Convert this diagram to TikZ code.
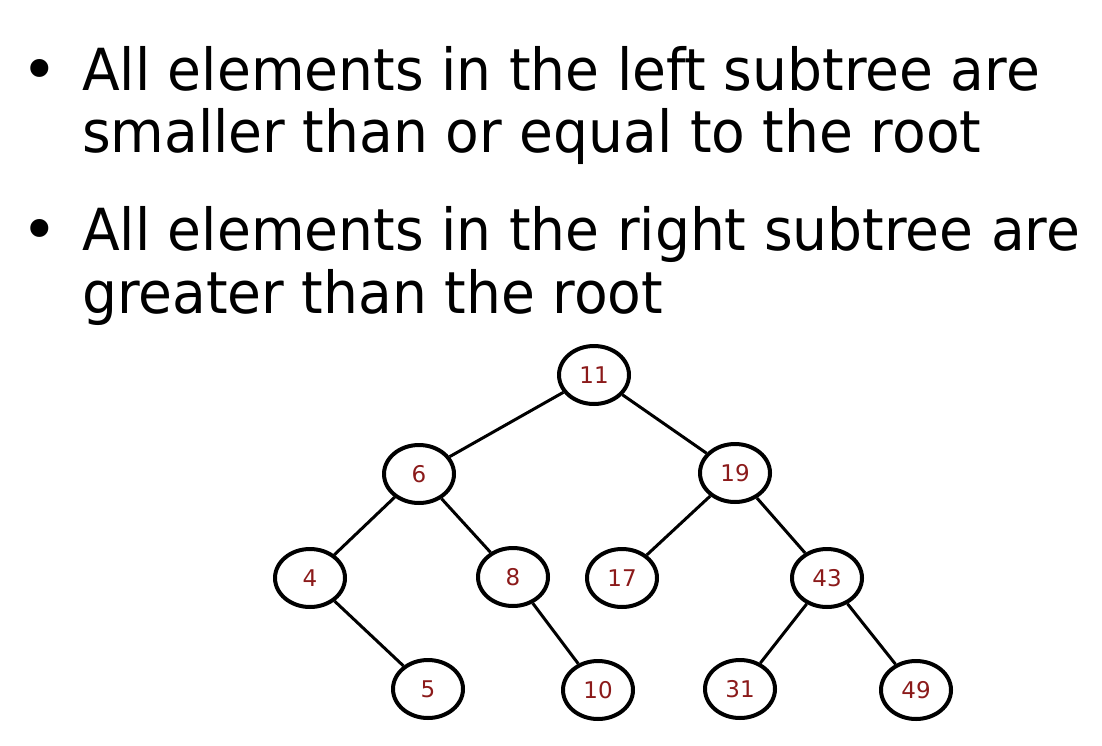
\documentclass[tikz,border=0pt]{standalone}
\usepackage{fontspec}
\setmainfont{DejaVu Sans}
\newfontfamily\bodyfont[FakeStretch=0.95]{DejaVu Sans}
\usetikzlibrary{shapes.geometric}
\definecolor{numred}{HTML}{8B1A1A}
\tikzset{
  tnode/.style={ellipse, draw=black, line width=4pt, minimum width=70pt, minimum height=58pt, inner sep=0pt,
    text=numred, font=\fontsize{23}{23}\selectfont},
  tedge/.style={draw=black, line width=3pt},
  btext/.style={anchor=base west, inner sep=0pt, font=\bodyfont\fontsize{58}{64}\selectfont},
  bul/.style={anchor=base, inner sep=0pt, font=\fontsize{62}{64}\selectfont}
}
\begin{document}
\begin{tikzpicture}[x=1pt,y=-1pt]
\useasboundingbox (0,0) rectangle (1102,746);
\node[bul] (b1) at (40,92) {•};
\node[btext] (l1) at (82,91) {All elements in the left subtree are};
\node[btext] (l2) at (82,153) {smaller than or equal to the root};
\node[bul] (b2) at (40,251) {•};
\node[btext] (l3) at (82,250) {All elements in the right subtree are};
\node[btext] (l4) at (82,313) {greater than the root};

\node[tnode] (n11) at (594,375) {11};
\node[tnode] (n6) at (419,474) {6};
\node[tnode] (n19) at (735,473) {19};
\node[tnode] (n4) at (310,578) {4};
\node[tnode] (n8) at (513,577) {8};
\node[tnode] (n17) at (622,578) {17};
\node[tnode] (n43) at (827,578) {43};
\node[tnode] (n5) at (428,689) {5};
\node[tnode] (n10) at (598,690) {10};
\node[tnode] (n31) at (740,689) {31};
\node[tnode] (n49) at (916,690) {49};

\draw[tedge] (n11) -- (n6);
\draw[tedge] (n11) -- (n19);
\draw[tedge] (n6) -- (n4);
\draw[tedge] (n6) -- (n8);
\draw[tedge] (n19) -- (n17);
\draw[tedge] (n19) -- (n43);
\draw[tedge] (n4) -- (n5);
\draw[tedge] (n8) -- (n10);
\draw[tedge] (n43) -- (n31);
\draw[tedge] (n43) -- (n49);
\end{tikzpicture}
\end{document}
